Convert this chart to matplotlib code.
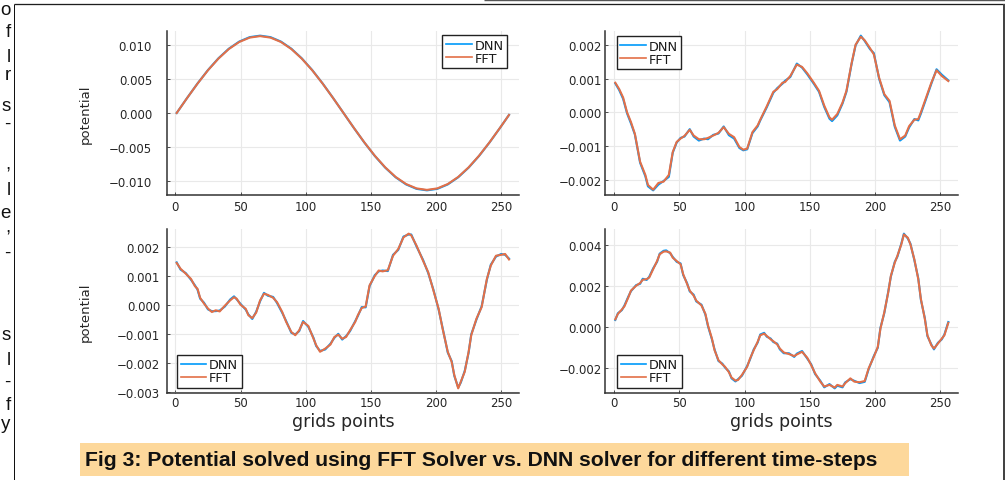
import matplotlib
matplotlib.use("Agg")
import matplotlib.pyplot as plt
from matplotlib.lines import Line2D
from matplotlib.patches import Rectangle
from matplotlib.ticker import FuncFormatter, FixedLocator

# ---------------------------------------------------------------- data
# panel 1 (top left)
x_tl = [1, 9, 17, 25, 33, 41, 49, 57, 65, 73, 81, 89, 97, 105, 113, 121, 129,
        137, 145, 153, 161, 169, 177, 185, 193, 201, 209, 217, 225, 233, 241, 249, 256]
fft_tl = [0.0, 0.00220, 0.00432, 0.00628, 0.00799, 0.00940, 0.01044, 0.01108, 0.01130,
          0.01108, 0.01044, 0.00940, 0.00799, 0.00628, 0.00432, 0.00220, 0.0,
          -0.00220, -0.00432, -0.00628, -0.00799, -0.00940, -0.01044, -0.01108, -0.01130,
          -0.01108, -0.01044, -0.00940, -0.00799, -0.00628, -0.00432, -0.00220, -0.00028]
dnn_tl = [0.0, 0.00221, 0.00434, 0.00631, 0.00803, 0.00945, 0.01050, 0.01115, 0.01137,
          0.01115, 0.01050, 0.00945, 0.00803, 0.00631, 0.00434, 0.00221, 0.0,
          -0.00221, -0.00434, -0.00631, -0.00803, -0.00945, -0.01050, -0.01115, -0.01137,
          -0.01115, -0.01050, -0.00945, -0.00803, -0.00631, -0.00434, -0.00221, -0.00028]

# panel 2 (top right)
x_tr = [1, 4, 7, 10, 13, 16, 20, 24, 26, 30, 34, 38, 42, 45, 48, 51, 54, 58, 61, 65,
        69, 72, 76, 80, 84, 88, 92, 96, 99, 102, 106, 110, 112, 117, 122, 125, 129, 131, 135, 140,
        144, 148, 153, 157, 161, 165, 167, 171, 175, 178, 182, 185, 189, 192, 196, 199, 203, 207, 211, 215,
        219, 223, 226, 230, 233, 235, 239, 243, 247, 251, 256]
fft_tr = [0.00088, 0.00069, 0.00044, 0.00000, -0.00029, -0.00064, -0.00147, -0.00186, -0.00216, -0.00230,
          -0.00210, -0.00206, -0.00186, -0.00118, -0.00088, -0.00078, -0.00070, -0.00052, -0.00069, -0.00080,
          -0.00080, -0.00076, -0.00069, -0.00061, -0.00044, -0.00064, -0.00074, -0.00103, -0.00111, -0.00108,
          -0.00059, -0.00039, -0.00022, 0.00018, 0.00061, 0.00069, 0.00088, 0.00090, 0.00108, 0.00142,
          0.00135, 0.00116, 0.00088, 0.00064, 0.00020, -0.00015, -0.00022, -0.00005, 0.00029, 0.00064,
          0.00147, 0.00201, 0.00225, 0.00214, 0.00191, 0.00172, 0.00103, 0.00054, 0.00034, -0.00039,
          -0.00080, -0.00069, -0.00041, -0.00022, -0.00020, 0.00000, 0.00044, 0.00088, 0.00125, 0.00108,
          0.00093]
dnn_tr = [0.00086, 0.00066, 0.00040, -0.00003, -0.00033, -0.00066, -0.00150, -0.00190, -0.00220, -0.00232,
          -0.00215, -0.00204, -0.00192, -0.00120, -0.00090, -0.00076, -0.00072, -0.00050, -0.00072, -0.00084,
          -0.00078, -0.00080, -0.00067, -0.00063, -0.00042, -0.00068, -0.00078, -0.00106, -0.00113, -0.00110,
          -0.00062, -0.00042, -0.00024, 0.00015, 0.00058, 0.00072, 0.00085, 0.00094, 0.00105, 0.00145,
          0.00133, 0.00113, 0.00085, 0.00061, 0.00016, -0.00019, -0.00026, -0.00009, 0.00026, 0.00061,
          0.00145, 0.00199, 0.00228, 0.00212, 0.00188, 0.00176, 0.00100, 0.00051, 0.00030, -0.00043,
          -0.00084, -0.00072, -0.00045, -0.00020, -0.00024, -0.00004, 0.00040, 0.00085, 0.00128, 0.00112,
          0.00095]

# panel 3 (bottom left)
x_bl = [1, 4, 8, 12, 15, 17, 19, 22, 25, 28, 31, 34, 38, 42, 45, 47, 50, 54, 56, 59,
        62, 65, 68, 71, 75, 78, 82, 85, 89, 92, 95, 98, 102, 106, 108, 111, 115, 119, 122, 125,
        128, 131, 134, 138, 140, 143, 146, 149, 153, 156, 159, 163, 167, 171, 175, 179, 181, 185, 190, 194,
        198, 202, 205, 209, 212, 214, 217, 219, 222, 225, 227, 231, 235, 239, 242, 246, 250, 253, 256]
fft_bl = [0.00145, 0.00125, 0.00108, 0.00090, 0.00065, 0.00056, 0.00025, 0.00005, -0.00012, -0.00024,
          -0.00018, -0.00022, -0.00002, 0.00016, 0.00027, 0.00022, 0.00001, -0.00013, -0.00035, -0.00045,
          -0.00026, 0.00016, 0.00039, 0.00035, 0.00025, 0.00010, -0.00024, -0.00058, -0.00093, -0.00104,
          -0.00087, -0.00058, -0.00072, -0.00116, -0.00138, -0.00161, -0.00150, -0.00136, -0.00110, -0.00102,
          -0.00116, -0.00110, -0.00087, -0.00058, -0.00035, -0.00010, -0.00005, 0.00068, 0.00100, 0.00119,
          0.00116, 0.00120, 0.00170, 0.00193, 0.00233, 0.00246, 0.00240, 0.00205, 0.00153, 0.00113,
          0.00050, -0.00013, -0.00081, -0.00161, -0.00196, -0.00241, -0.00287, -0.00264, -0.00230, -0.00161,
          -0.00104, -0.00047, -0.00007, 0.00090, 0.00136, 0.00170, 0.00173, 0.00176, 0.00157]
dnn_bl = [0.00147, 0.00122, 0.00110, 0.00087, 0.00068, 0.00053, 0.00022, 0.00008, -0.00015, -0.00021,
          -0.00021, -0.00019, -0.00005, 0.00019, 0.00030, 0.00020, 0.00004, -0.00016, -0.00032, -0.00048,
          -0.00023, 0.00013, 0.00042, 0.00032, 0.00028, 0.00007, -0.00027, -0.00055, -0.00096, -0.00101,
          -0.00090, -0.00055, -0.00075, -0.00113, -0.00141, -0.00158, -0.00153, -0.00133, -0.00113, -0.00099,
          -0.00119, -0.00107, -0.00090, -0.00055, -0.00038, -0.00007, -0.00008, 0.00065, 0.00103, 0.00116,
          0.00119, 0.00117, 0.00173, 0.00190, 0.00236, 0.00243, 0.00243, 0.00202, 0.00156, 0.00110,
          0.00053, -0.00016, -0.00078, -0.00164, -0.00193, -0.00244, -0.00284, -0.00267, -0.00227, -0.00164,
          -0.00101, -0.00050, -0.00004, 0.00087, 0.00139, 0.00167, 0.00176, 0.00173, 0.00160]

# panel 4 (bottom right)
x_br = [1, 3, 6, 8, 11, 13, 17, 20, 22, 25, 27, 30, 33, 35, 38, 40, 43, 45, 48, 51,
        53, 56, 58, 61, 63, 67, 70, 72, 75, 77, 80, 83, 85, 88, 90, 93, 95, 98, 102, 104,
        107, 110, 112, 115, 117, 120, 122, 125, 127, 130, 134, 138, 140, 144, 148, 151, 154, 158, 161, 165,
        169, 171, 175, 177, 181, 184, 188, 192, 195, 199, 202, 204, 207, 210, 212, 215, 217, 220, 222, 225,
        227, 230, 233, 235, 238, 240, 243, 245, 248, 251, 253, 256]
fft_br = [0.00036, 0.00063, 0.00084, 0.00100, 0.00144, 0.00177, 0.00201, 0.00214, 0.00230, 0.00233,
          0.00241, 0.00282, 0.00322, 0.00355, 0.00368, 0.00369, 0.00363, 0.00338, 0.00322, 0.00306,
          0.00257, 0.00209, 0.00177, 0.00152, 0.00128, 0.00104, 0.00063, 0.00006, -0.00058, -0.00115,
          -0.00164, -0.00185, -0.00196, -0.00223, -0.00249, -0.00264, -0.00261, -0.00236, -0.00196, -0.00159,
          -0.00115, -0.00074, -0.00042, -0.00034, -0.00045, -0.00062, -0.00071, -0.00087, -0.00107, -0.00126,
          -0.00134, -0.00144, -0.00136, -0.00123, -0.00152, -0.00188, -0.00228, -0.00269, -0.00293, -0.00285,
          -0.00298, -0.00285, -0.00293, -0.00277, -0.00253, -0.00269, -0.00272, -0.00266, -0.00204, -0.00147,
          -0.00099, -0.00010, 0.00071, 0.00168, 0.00249, 0.00314, 0.00347, 0.00403, 0.00452, 0.00436,
          0.00403, 0.00330, 0.00233, 0.00136, 0.00039, -0.00042, -0.00091, -0.00107, -0.00083, -0.00058,
          -0.00042, 0.00019]
dnn_br = [0.00033, 0.00066, 0.00081, 0.00104, 0.00148, 0.00174, 0.00204, 0.00210, 0.00235, 0.00229,
          0.00245, 0.00286, 0.00318, 0.00358, 0.00372, 0.00374, 0.00360, 0.00342, 0.00318, 0.00310,
          0.00253, 0.00213, 0.00173, 0.00157, 0.00124, 0.00108, 0.00059, 0.00002, -0.00062, -0.00111,
          -0.00168, -0.00181, -0.00200, -0.00219, -0.00253, -0.00268, -0.00257, -0.00240, -0.00192, -0.00163,
          -0.00111, -0.00078, -0.00038, -0.00030, -0.00049, -0.00058, -0.00075, -0.00083, -0.00111, -0.00130,
          -0.00130, -0.00148, -0.00132, -0.00119, -0.00156, -0.00184, -0.00232, -0.00265, -0.00297, -0.00281,
          -0.00302, -0.00289, -0.00297, -0.00273, -0.00257, -0.00265, -0.00276, -0.00270, -0.00208, -0.00143,
          -0.00103, -0.00006, 0.00067, 0.00172, 0.00245, 0.00318, 0.00343, 0.00407, 0.00456, 0.00432,
          0.00407, 0.00326, 0.00237, 0.00132, 0.00043, -0.00046, -0.00087, -0.00111, -0.00079, -0.00062,
          -0.00038, 0.00023]

x_ticks = [0, 50, 100, 150, 200, 250]
y_ticks_tl = [-0.010, -0.005, 0.0, 0.005, 0.010]
y_ticks_tr = [-0.002, -0.001, 0.0, 0.001, 0.002]
y_ticks_bl = [-0.003, -0.002, -0.001, 0.0, 0.001, 0.002]
y_ticks_br = [-0.002, 0.0, 0.002, 0.004]

series_labels = ["DNN", "FFT"]
y_label = "potential"
x_label = "grids points"
caption = "Fig 3: Potential solved using FFT Solver vs. DNN solver for different time-steps"
margin_letters = ["o", "f", "l", "r", "s", "-", ",", "l", "e", ",", "-", "s", "l", "-", "f", "y"]
margin_baselines = [14, 36, 61, 79, 110, 128, 169, 194, 217, 232, 257, 339, 364, 386, 409, 428]

# ---------------------------------------------------------------- figure
W, H = 1005, 481
fig = plt.figure(figsize=(W / 100, H / 100), dpi=100)
plt.rcParams['font.family'] = ['DejaVu Sans']


def fx(px):
    return px / W


def fy(py):
    return 1 - py / H


DNN_COLOR = '#009AFA'
FFT_COLOR = '#E36F47'
AXIS_COLOR = '#333333'
TEXT_COLOR = '#262626'


def fmt_y(v, _pos):
    if abs(v) < 1e-12:
        v = 0.0
    return f"{v:.3f}".replace('-', '\u2212')


panels = [
    dict(box=(166.7, 32, 519, 196), x=x_tl, dnn=dnn_tl, fft=fft_tl, yt=y_ticks_tl,
         ylab=True, xlab=False, leg=('upper right', (0.966, 0.976)), ypad=10.5, xpad=3.6),
    dict(box=(605.3, 32, 958.3, 196), x=x_tr, dnn=dnn_tr, fft=fft_tr, yt=y_ticks_tr,
         ylab=False, xlab=False, leg=('upper left', (0.032, 0.970)), ypad=2.6, xpad=3.6),
    dict(box=(166.7, 230, 519, 394), x=x_bl, dnn=dnn_bl, fft=fft_bl, yt=y_ticks_bl,
         ylab=True, xlab=True, leg=('lower left', (0.029, 0.030)), ypad=4.8, xpad=2.0),
    dict(box=(605.3, 230, 958.3, 394), x=x_br, dnn=dnn_br, fft=fft_br, yt=y_ticks_br,
         ylab=False, xlab=True, leg=('lower left', (0.033, 0.030)), ypad=2.6, xpad=2.0),
]

for p in panels:
    l, t, r, b = p['box']
    ax = fig.add_axes([fx(l), fy(b), fx(r) - fx(l), fy(t) - fy(b)])
    ax.plot(p['x'], p['dnn'], color=DNN_COLOR, lw=1.5, label=series_labels[0], zorder=3)
    ax.plot(p['x'], p['fft'], color=FFT_COLOR, lw=1.5, label=series_labels[1], zorder=4)

    # axis limits widened by 3% of the data span, as in the default Plots.jl look
    xs = p['x']
    xspan = max(xs) - min(xs)
    ax.set_xlim(min(xs) - 0.03 * xspan, max(xs) + 0.03 * xspan)
    ys = p['dnn'] + p['fft']
    yspan = max(ys) - min(ys)
    ax.set_ylim(min(ys) - 0.03 * yspan, max(ys) + 0.03 * yspan)

    ax.xaxis.set_major_locator(FixedLocator(x_ticks))
    ax.yaxis.set_major_locator(FixedLocator(p['yt']))
    ax.yaxis.set_major_formatter(FuncFormatter(fmt_y))

    ax.grid(True, color='#e9e9e9', lw=0.8, zorder=0)
    ax.set_axisbelow(True)
    for side in ('top', 'right'):
        ax.spines[side].set_visible(False)
    for side in ('left', 'bottom'):
        ax.spines[side].set_color(AXIS_COLOR)
        ax.spines[side].set_linewidth(1.1)

    ax.tick_params(axis='both', direction='in', length=2.5, width=0.6,
                   color=AXIS_COLOR, labelcolor=TEXT_COLOR, labelsize=8.5)
    ax.tick_params(axis='y', pad=p['ypad'])
    ax.tick_params(axis='x', pad=p['xpad'])

    if p['ylab']:
        ax.set_ylabel(y_label, fontsize=9.5, color=TEXT_COLOR, va='center')
        ax.yaxis.set_label_coords((85 - l) / (r - l), 0.5)
    if p['xlab']:
        ax.set_xlabel(x_label, fontsize=12.5, color=TEXT_COLOR, va='center')
        ax.xaxis.set_label_coords(0.5, (b - 421.7) / (b - t))

    loc, anchor = p['leg']
    leg = ax.legend(loc=loc, bbox_to_anchor=anchor, borderaxespad=0, fontsize=9.3,
                    frameon=True, fancybox=False, edgecolor='#222222', framealpha=1,
                    handlelength=2.0, handletextpad=0.2, borderpad=0.28,
                    labelspacing=0.0)
    leg.get_frame().set_linewidth(1.0)
    for h in leg.get_lines():
        h.set_linewidth(1.2)
    for txt in leg.get_texts():
        txt.set_color('#1a1a1a')

# ---------------------------------------------------------------- page frame
def hline(y, x0, x1, color, lw_px):
    fig.add_artist(Line2D([fx(x0), fx(x1)], [fy(y), fy(y)], transform=fig.transFigure,
                          color=color, lw=lw_px * 0.72, solid_capstyle='butt'))


def vline(x, y0, y1, color, lw_px):
    fig.add_artist(Line2D([fx(x), fx(x)], [fy(y0), fy(y1)], transform=fig.transFigure,
                          color=color, lw=lw_px * 0.72, solid_capstyle='butt'))


hline(0.6, 484, 1005, '#555555', 1.4)
hline(5.2, 13.5, 1004.5, '#1e1e1e', 1.3)
vline(13.7, 5, 481, '#111111', 1.0)
vline(1003.6, 5, 481, '#444444', 2.0)

# neighbouring column text at the page edge
for ch, yb in zip(margin_letters, margin_baselines):
    fig.text(fx(10.5), fy(yb + 1), ch, ha='right', va='baseline', fontsize=13.5,
             family=['Liberation Sans', 'DejaVu Sans'], color='#111111')

# caption bar
fig.add_artist(Rectangle((fx(79.5), fy(476.5)), fx(909) - fx(79.5), fy(443.5) - fy(476.5),
                         transform=fig.transFigure, facecolor='#FDD89B', edgecolor='none'))
fig.text(fx(85), fy(460.5), caption, ha='left', va='center', fontsize=15.2,
         fontweight='bold', family=['Liberation Sans', 'DejaVu Sans'], color='#111111')

fig.savefig('out.png', dpi=100)
